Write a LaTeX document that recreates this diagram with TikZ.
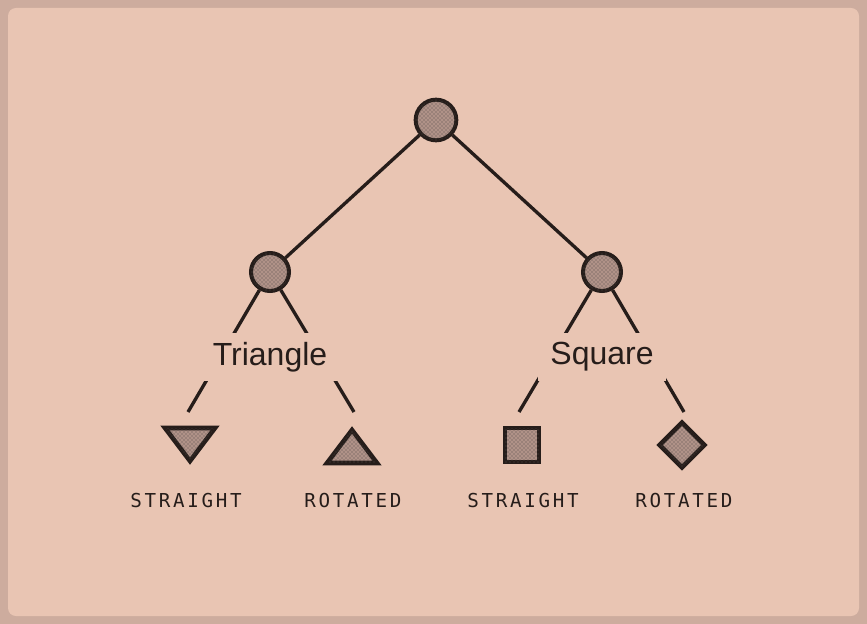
\documentclass[tikz,border=0pt]{standalone}
\usepackage{fontspec}
\setmainfont{Liberation Sans}
\newfontfamily\labelmono[LetterSpace=14]{DejaVu Sans Mono}
\usetikzlibrary{positioning, shapes.geometric, patterns}
\definecolor{framecolor}{RGB}{205,172,158}
\definecolor{panelcolor}{RGB}{233,197,179}
\definecolor{inkcolor}{RGB}{38,29,26}
\definecolor{graincolor}{RGB}{176,146,136}
\tikzset{
  grain/.style   = {fill=graincolor,
                    postaction={pattern=crosshatch dots, pattern color=inkcolor!80}},
  split/.style   = {circle, draw=inkcolor, line width=3pt, grain,
                    inner sep=0pt, minimum size=28.5pt},
  edge/.style    = {draw=inkcolor, line width=2.5pt},
  family/.style  = {fill=panelcolor, text=inkcolor, inner xsep=9pt, inner ysep=7pt,
                    font=\fontsize{24}{28}\selectfont},
  variant/.style = {text=inkcolor, inner sep=0pt,
                    font=\labelmono\fontsize{14.4}{16}\selectfont},
  glyph/.style   = {draw=inkcolor, line width=3.4pt, grain, inner sep=0pt},
}

\begin{document}
\begin{tikzpicture}[x=0.75pt, y=-0.75pt]
  % panel and frame
  \fill[framecolor] (0,0) rectangle (867,624);
  \fill[panelcolor, rounded corners=6] (8,8) rectangle (859,616);

  % split points
  \node[split, minimum size=30.5pt] (root) at (436,120) {};
  \node[split] (tri) at (270,272) {};
  \node[split] (sq)  at (602,272) {};

  % where the lower edges stop
  \coordinate (tri-a) at (188,412);
  \coordinate (tri-b) at (354,412);
  \coordinate (sq-a)  at (519,412);
  \coordinate (sq-b)  at (684,412);

  \draw[edge] (root) -- (tri);
  \draw[edge] (root) -- (sq);
  \foreach \from/\to in {tri/tri-a, tri/tri-b, sq/sq-a, sq/sq-b} {
    \draw[edge] (\from) -- (\to);
  }

  % family labels sit on top of the edges
  \node[family] (tri-label) at (270,357) {Triangle};
  \node[family] (sq-label)  at (602,357) {Square};

  % leaf glyphs
  \coordinate (tri-down) at (190,445);
  \coordinate (tri-up)   at (352,445);
  \filldraw[glyph, line join=miter] (165,428) -- (215,428) -- (190,461) -- cycle;
  \filldraw[glyph, line join=miter] (352,430) -- (377,463) -- (327,463) -- cycle;
  \node[glyph, rectangle, minimum size=25.5pt] (sq-straight) at (522,445) {};
  \node[glyph, diamond, minimum width=35pt, minimum height=35pt] (sq-rotated) at (682,445) {};

  % leaf captions
  \foreach \x/\name/\txt in {186/a/STRAIGHT, 353/b/ROTATED, 523/c/STRAIGHT, 684/d/ROTATED} {
    \node[variant] (cap-\name) at (\x,501) {\txt};
  }
\end{tikzpicture}
\end{document}
